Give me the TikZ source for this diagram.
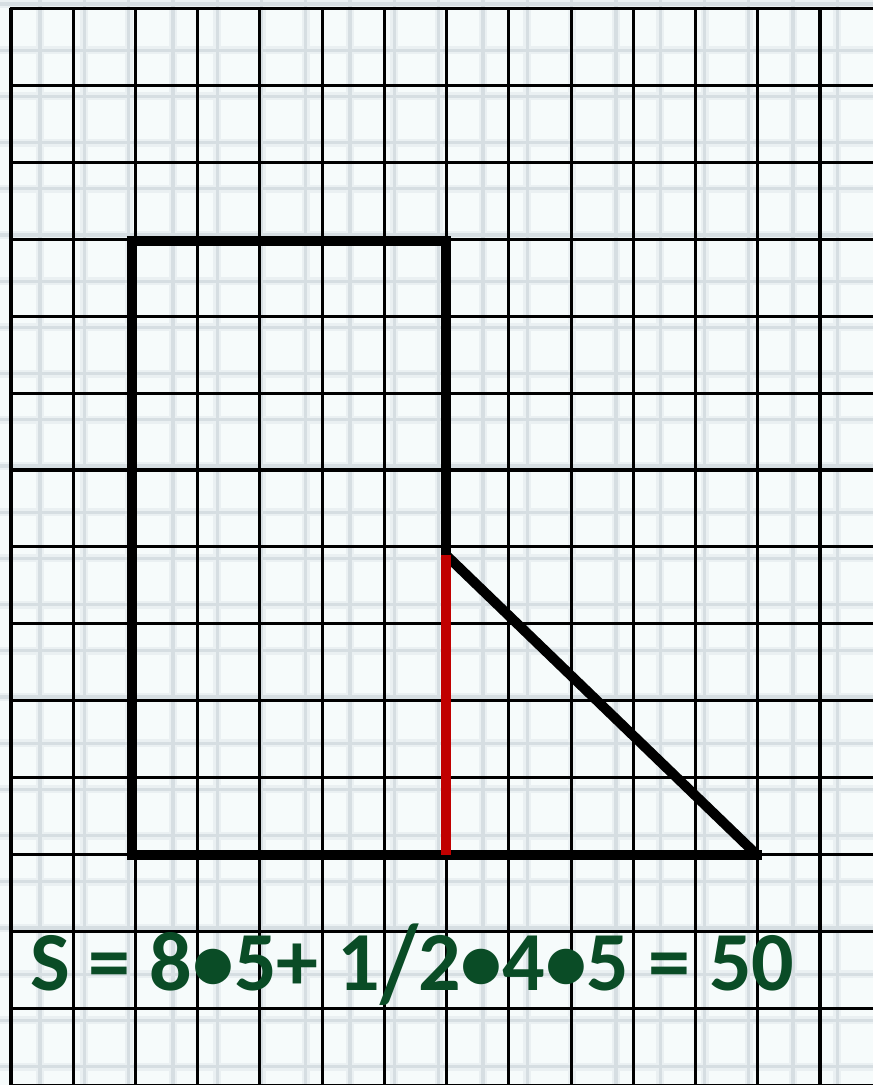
\documentclass[tikz,border=0pt]{standalone}
\usepackage{fontspec}
\usepackage{graphicx}
\setmainfont{Carlito}
\definecolor{bgcol}{RGB}{246,251,251}
\definecolor{faintwide}{RGB}{234,240,242}
\definecolor{faintcore}{RGB}{214,222,226}
\definecolor{formulagreen}{RGB}{10,76,38}
\definecolor{heightred}{RGB}{192,0,0}
\newcommand{\tallslash}{\raisebox{-0.13em}{\scalebox{1.05}[1.3]{/}}}
\tikzset{
  gridline/.style={black,line width=2.3pt},
  faintw/.style={faintwide,line width=6pt},
  faintc/.style={faintcore,line width=2.5pt},
  outline/.style={black,line width=7.5pt,line join=miter,line cap=rect},
  heightline/.style={heightred,line width=7.5pt},
  formula/.style={formulagreen,font=\fontsize{63}{70}\selectfont\bfseries,inner sep=0pt,anchor=base west}
}
\begin{document}
\begin{tikzpicture}[x=0.75pt,y=-0.75pt]
\useasboundingbox (0,0) rectangle (873,1085);
\clip (0,0) rectangle (873,1085);
\fill[bgcol] (0,0) rectangle (873,1085);
% faint background grid
\foreach \k in {-1,...,19} {
  \draw[faintw] ({40+44.3*\k},0) -- ({40+44.3*\k},1085);
}
\foreach \k in {0,...,23} {
  \draw[faintw] (0,{4+46.2*\k}) -- (873,{4+46.2*\k});
}
\foreach \k in {-1,...,19} {
  \draw[faintc] ({40+44.3*\k},0) -- ({40+44.3*\k},1085);
}
\foreach \k in {0,...,23} {
  \draw[faintc] (0,{4+46.2*\k}) -- (873,{4+46.2*\k});
}
% main grid
\foreach \i in {0,...,13} {
  \draw[gridline] ({11+62.23*\i},8.3) -- ({11+62.23*\i},1090);
}
\foreach \j in {0,...,14} {
  \draw[gridline] (9.5,{8.3+76.95*\j}) -- (880,{8.3+76.95*\j});
}
% figure
\coordinate (A) at (132,241);
\coordinate (B) at (446,241);
\coordinate (C) at (446,555);
\coordinate (D) at (757,855);
\coordinate (E) at (132,855);
\coordinate (F) at (446,855);
\draw[outline] (C) -- (B) -- (A) -- (E) -- (D);
\draw[black,line width=7.5pt,line cap=butt] (C) -- (D);
\draw[heightline] (C) -- (F);
% formula
\node[formula] (formula) at (30,990) {S = 8•5+ 1\tallslash2•4•5 = 50};
\end{tikzpicture}
\end{document}
